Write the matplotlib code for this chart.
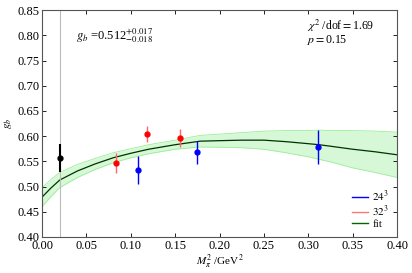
import numpy as np
import matplotlib
matplotlib.use('Agg')
import matplotlib.pyplot as plt

plt.rcParams['font.family'] = 'Liberation Serif'
plt.rcParams['mathtext.fontset'] = 'stix'
plt.rcParams['font.size'] = 8

# data
x_phys = [0.02]
y_phys = [0.557]
e_phys = [0.028]

x_32 = [0.083, 0.118, 0.155]
y_32 = [0.547, 0.604, 0.596]
e_32 = [0.020, 0.016, 0.018]

x_24 = [0.108, 0.175, 0.311]
y_24 = [0.533, 0.568, 0.579]
e_24 = [0.028, 0.023, 0.034]

fit_x = [0.0, 0.01, 0.02, 0.03, 0.04, 0.05, 0.06, 0.08, 0.10, 0.12, 0.15, 0.178, 0.20,
         0.225, 0.25, 0.275, 0.30, 0.312, 0.325, 0.35, 0.375, 0.40]
fit_y = [0.479, 0.497, 0.513, 0.522, 0.531, 0.538, 0.545, 0.557, 0.566, 0.574, 0.583, 0.590, 0.591,
         0.592, 0.592, 0.589, 0.585, 0.583, 0.580, 0.574, 0.569, 0.563]
fit_e = [0.019, 0.017, 0.015, 0.014, 0.013, 0.012, 0.011, 0.010, 0.009, 0.009, 0.009, 0.0115, 0.013,
         0.015, 0.018, 0.022, 0.026, 0.029, 0.031, 0.037, 0.041, 0.045]

fig = plt.figure(figsize=(4.12, 2.73), dpi=100)
ax = fig.add_axes([0.102, 0.132, 0.862, 0.831])

fx = np.array(fit_x)
fy = np.array(fit_y)
fe = np.array(fit_e)
ax.fill_between(fx, fy - fe, fy + fe, color='#ccf7cc', alpha=0.8, lw=0)
ax.plot(fx, fy + fe, color='#99ee99', lw=0.6)
ax.plot(fx, fy - fe, color='#99ee99', lw=0.6)
ax.plot(fx, fy, color='#003300', lw=0.9)

ax.axvline(0.02, color='#bbbbbb', lw=0.8)

ax.errorbar(x_32, y_32, yerr=e_32, fmt='o', color='red', ecolor='#ff6666', ms=3.5, elinewidth=1, capsize=0)
ax.errorbar(x_24, y_24, yerr=e_24, fmt='o', color='blue', ms=3.5, elinewidth=1, capsize=0)
ax.errorbar(x_phys, y_phys, yerr=e_phys, fmt='o', color='black', ms=3.5, elinewidth=1.5, capsize=0)

ax.plot([], [], color='blue', lw=1, label='$24^3$')
ax.plot([], [], color='#ff7777', lw=1, label='$32^3$')
ax.plot([], [], color='#006600', lw=1, label='fit')
ax.legend(loc='lower right', frameon=False, handlelength=1.4, handletextpad=0.4,
          labelspacing=0.0, bbox_to_anchor=(1.005, -0.01))

ax.set_xlim(0, 0.4)
ax.set_ylim(0.40, 0.85)
ax.set_xticks(np.arange(0, 0.401, 0.05))
ax.set_yticks(np.arange(0.40, 0.851, 0.05))
ax.set_xticklabels(['%.2f' % v for v in np.arange(0, 0.401, 0.05)], fontsize=9)
ax.set_yticklabels(['%.2f' % v for v in np.arange(0.40, 0.851, 0.05)], fontsize=9)
ax.tick_params(direction='in', top=True, right=True, length=3, width=0.6, pad=2)
for s in ax.spines.values():
    s.set_linewidth(0.8)
    s.set_color('#555555')

ax.set_xlabel('$M_\\pi^2$ /GeV$^2$', labelpad=1)
ax.set_ylabel('$g_b$', labelpad=2)

ax.text(0.038, 0.800, '$g_b$ =0.512$^{+0.017}_{-0.018}$', fontsize=9, va='center')
ax.text(0.298, 0.818, '$\\chi^2$ /dof$=$1.69', fontsize=8.5, va='center')
ax.text(0.298, 0.790, '$p$$=$0.15', fontsize=8.5, va='center')

fig.savefig('out.png', dpi=100)
